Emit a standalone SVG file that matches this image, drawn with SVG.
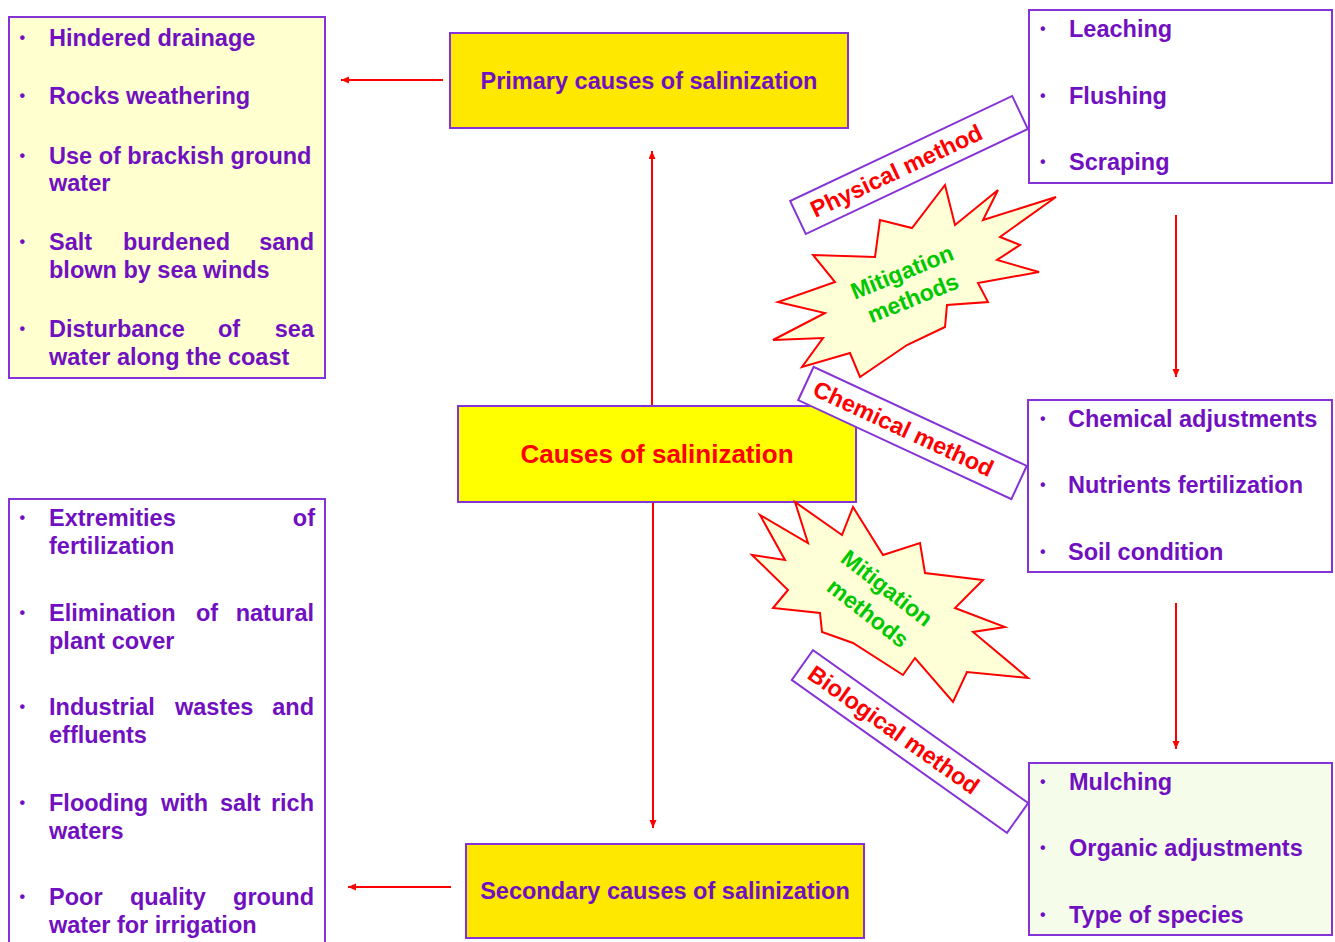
<svg xmlns="http://www.w3.org/2000/svg" width="1335" height="942" viewBox="0 0 1335 942">
<style>
text{font-family:"Liberation Sans",Arial,sans-serif;font-weight:bold}
.t{font-size:23.5px;fill:#7010C0}
.b{font-size:16px;fill:#7010C0}
.box{stroke:#8533D6;stroke-width:2}
.lbl{fill:#fff;stroke:#8533D6;stroke-width:2}
.lt{font-size:23.5px;fill:#FF0000;text-anchor:middle}
.star{fill:#FFFFD7;stroke:#FF0000;stroke-width:2;stroke-linejoin:miter}
.mt{font-size:23px;fill:#00C800;text-anchor:middle}
.e{text-anchor:end}
.c{text-anchor:middle}
.arr{stroke:#FF0000;stroke-width:2;fill:none;marker-end:url(#ah)}
</style>
<defs>
<marker id="ah" markerUnits="userSpaceOnUse" markerWidth="9" markerHeight="8" refX="8" refY="3.5" orient="auto">
<path d="M0,0 L8,3.5 L0,7 z" fill="#FF0000"/>
</marker>
</defs>
<rect width="1335" height="942" fill="#fff"/>

<g id="connectors">
<line class="arr" x1="443" y1="80" x2="341" y2="80"/>
<line class="arr" x1="652" y1="406" x2="652" y2="151"/>
<line class="arr" x1="653" y1="502" x2="653" y2="828"/>
<line class="arr" x1="451" y1="887" x2="348" y2="887"/>
<line class="arr" x1="1176" y1="215" x2="1176" y2="377"/>
<line class="arr" x1="1176" y1="603" x2="1176" y2="749"/>
</g>

<g id="primary-list">
<rect class="box" x="9" y="17" width="316" height="361" fill="#FFFFD0"/>
<text class="b" x="19.5" y="43">•</text><text class="t" x="49" y="46">Hindered drainage</text>
<text class="b" x="19.5" y="101">•</text><text class="t" x="49" y="104">Rocks weathering</text>
<text class="b" x="19.5" y="161">•</text><text class="t" x="49" y="164">Use of brackish ground</text>
<text class="t" x="49" y="191">water</text>
<text class="b" x="19.5" y="247">•</text><text class="t" x="49" y="250">Salt</text><text class="t" x="123" y="250">burdened</text><text class="t e" x="314" y="250">sand</text>
<text class="t" x="49" y="278">blown by sea winds</text>
<text class="b" x="19.5" y="334">•</text><text class="t" x="49" y="337">Disturbance</text><text class="t" x="218" y="337">of</text><text class="t e" x="314" y="337">sea</text>
<text class="t" x="49" y="365">water along the coast</text>
</g>

<g id="secondary-list">
<rect class="box" x="9" y="499" width="316" height="460" fill="#FFFFFF"/>
<text class="b" x="19.5" y="523">•</text><text class="t" x="49" y="526">Extremities</text><text class="t e" x="315" y="526">of</text>
<text class="t" x="49" y="554">fertilization</text>
<text class="b" x="19.5" y="618">•</text><text class="t" x="49" y="621">Elimination</text><text class="t" x="196" y="621">of</text><text class="t e" x="314" y="621">natural</text>
<text class="t" x="49" y="649">plant cover</text>
<text class="b" x="19.5" y="712">•</text><text class="t" x="49" y="715">Industrial</text><text class="t" x="175" y="715">wastes</text><text class="t e" x="314" y="715">and</text>
<text class="t" x="49" y="743">effluents</text>
<text class="b" x="19.5" y="808">•</text><text class="t" x="49" y="811">Flooding</text><text class="t" x="161" y="811">with</text><text class="t" x="220" y="811">salt</text><text class="t e" x="314" y="811">rich</text>
<text class="t" x="49" y="839">waters</text>
<text class="b" x="19.5" y="902">•</text><text class="t" x="49" y="905">Poor</text><text class="t" x="130" y="905">quality</text><text class="t e" x="314" y="905">ground</text>
<text class="t" x="49" y="933">water for irrigation</text>
</g>

<g id="primary-causes">
<rect class="box" x="450" y="33" width="398" height="95" fill="#FFE800"/>
<text class="t c" x="649" y="89">Primary causes of salinization</text>
</g>

<g id="causes">
<rect class="box" x="458" y="406" width="398" height="96" fill="#FFFF00"/>
<text class="c" x="657" y="463" font-size="26" fill="#FF0000">Causes of salinization</text>
</g>

<g id="secondary-causes">
<rect class="box" x="466" y="844" width="398" height="94" fill="#FFE800"/>
<text class="t c" x="665" y="899">Secondary causes of salinization</text>
</g>

<g id="physical-list">
<rect class="box" x="1029" y="10" width="303" height="173" fill="#FFFFFF"/>
<text class="b" x="1040" y="34">•</text><text class="t" x="1069" y="37">Leaching</text>
<text class="b" x="1040" y="101">•</text><text class="t" x="1069" y="104">Flushing</text>
<text class="b" x="1040" y="167">•</text><text class="t" x="1069" y="170">Scraping</text>
</g>

<g id="chemical-list">
<rect class="box" x="1028" y="400" width="304" height="172" fill="#FFFFFF"/>
<text class="b" x="1040" y="424">•</text><text class="t" x="1068" y="427">Chemical adjustments</text>
<text class="b" x="1040" y="490">•</text><text class="t" x="1068" y="493">Nutrients fertilization</text>
<text class="b" x="1040" y="557">•</text><text class="t" x="1068" y="560">Soil condition</text>
</g>

<g id="biological-list">
<rect class="box" x="1029" y="763" width="303" height="172" fill="#F6FCEA"/>
<text class="b" x="1040" y="787">•</text><text class="t" x="1069" y="790">Mulching</text>
<text class="b" x="1040" y="853">•</text><text class="t" x="1069" y="856">Organic adjustments</text>
<text class="b" x="1040" y="920">•</text><text class="t" x="1069" y="923">Type of species</text>
</g>

<g id="mitigation-1">
<polygon class="star" points="945,185 955,225 998,190 983,220 1056,197 1000,237 1020,245 997,260 1039,272 978,283 988,302 947,305 945,327 907,345 860,377 850,353 802,367 823,338 773,340 825,313 778,302 835,282 813,255 875,257 880,220 912,228"/>
<g transform="translate(902,272) rotate(-22)"><text class="mt" x="0" y="8">Mitigation</text></g>
<g transform="translate(913,298) rotate(-22)"><text class="mt" x="0" y="8">methods</text></g>
</g>

<g id="mitigation-2">
<polygon class="star" points="795,502 808,543 760,515 785,560 752,555 788,590 773,608 820,613 822,632 853,643 903,675 915,658 953,702 967,672 1028,678 973,632 1005,627 955,608 983,580 925,573 920,543 883,555 853,507 842,535"/>
<g transform="translate(887,588) rotate(38)"><text class="mt" x="0" y="8">Mitigation</text></g>
<g transform="translate(868,613) rotate(38)"><text class="mt" x="0" y="8">methods</text></g>
</g>

<g id="physical-method">
<g transform="translate(909,165) rotate(-25.3)">
<rect class="lbl" x="-122.8" y="-18.3" width="245.6" height="36.6"/>
<text class="lt" x="-14" y="8">Physical method</text>
</g>
</g>

<g id="chemical-method">
<g transform="translate(912.5,433) rotate(24.9)">
<rect class="lbl" x="-117.5" y="-18.3" width="235" height="36.6"/>
<text class="lt" x="-10" y="8">Chemical method</text>
</g>
</g>

<g id="biological-method">
<g transform="translate(910,741.5) rotate(35.4)">
<rect class="lbl" x="-132" y="-18.3" width="264" height="36.6"/>
<text class="lt" x="-20" y="8">Biological method</text>
</g>
</g>
</svg>
